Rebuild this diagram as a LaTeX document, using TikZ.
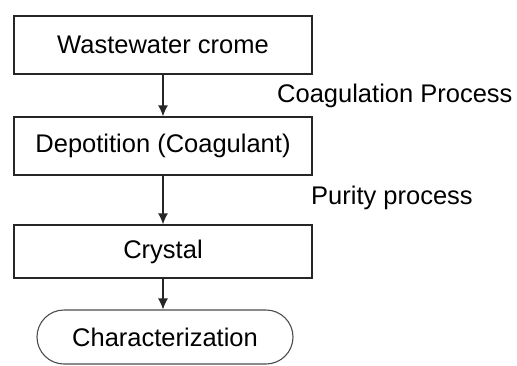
\documentclass[tikz,border=0pt]{standalone}
\usepackage{fontspec}
\setmainfont{Liberation Sans}
\usepackage{tikz}
\usetikzlibrary{arrows.meta}

\begin{document}
\begin{tikzpicture}[x=1pt, y=1pt, font=\fontsize{25.5}{30}\selectfont]
    \tikzset{
      stepbox/.style={draw=black!85, line width=1.3pt, minimum width=298pt, minimum height=58pt, inner sep=0pt},
      endbox/.style={draw=black!70, line width=1.1pt, rounded corners=27pt, minimum width=256pt, minimum height=54pt, inner sep=0pt},
      flow/.style={line width=1.3pt, draw=black!85, -{Latex[width=10pt, length=11pt]}}
    }
    \useasboundingbox (0,0) rectangle (517,-365);

    % process boxes
    \node[stepbox] (waste) at (163,-45) {Wastewater crome};
    \node[stepbox] (depo) at (163,-146) {Depotition (Coagulant)};
    \node[stepbox, minimum height=53pt] (crystal) at (163,-251.5) {Crystal};
    \node[endbox] (charac) at (165,-337) {Characterization};

    % flow arrows
    \draw[flow] (waste) -- (depo);
    \draw[flow] (depo) -- (crystal);
    \draw[flow] (crystal.south) -- (crystal.south |- charac.north);

    % process labels
    \node[anchor=west, inner sep=0pt] (coag) at (277,-96) {Coagulation Process};
    \node[anchor=west, inner sep=0pt] (purity) at (311,-198) {Purity process};

\end{tikzpicture}
\end{document}
